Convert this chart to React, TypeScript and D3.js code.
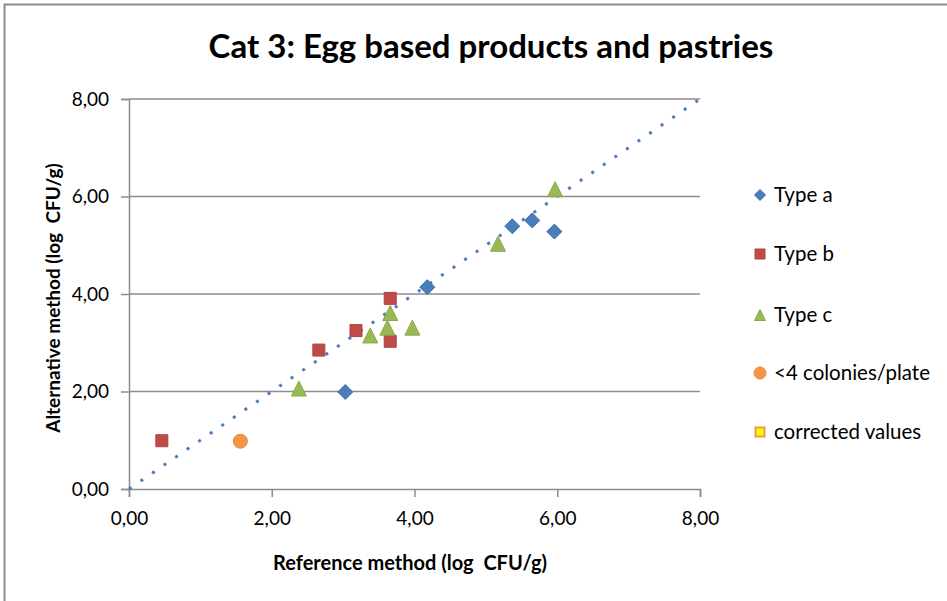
import * as React from 'react';
import * as d3 from 'd3';

type Pt = { x: number; y: number };

// values (log CFU/g)
const typeA: Pt[] = [
  { x: 3.03, y: 1.99 },
  { x: 4.18, y: 4.14 },
  { x: 5.37, y: 5.39 },
  { x: 5.65, y: 5.51 },
  { x: 5.96, y: 5.28 },
];
const typeB: Pt[] = [
  { x: 0.46, y: 0.99 },
  { x: 2.66, y: 2.85 },
  { x: 3.18, y: 3.25 },
  { x: 3.66, y: 3.91 },
  { x: 3.66, y: 3.03 },
];
const typeC: Pt[] = [
  { x: 2.38, y: 2.06 },
  { x: 3.38, y: 3.15 },
  { x: 3.62, y: 3.31 },
  { x: 3.66, y: 3.61 },
  { x: 3.97, y: 3.31 },
  { x: 5.17, y: 5.03 },
  { x: 5.97, y: 6.15 },
];
const fewColonies: Pt[] = [{ x: 1.56, y: 0.98 }];
const corrected: Pt[] = [];
const identityLine: Pt[] = [
  { x: 0, y: 0 },
  { x: 8, y: 8 },
];

const xTicks = [0, 2, 4, 6, 8];
const yTicks = [0, 2, 4, 6, 8];

const TITLE = 'Cat 3: Egg based products and pastries';
const X_TITLE = 'Reference method (log  CFU/g)';
const Y_TITLE = 'Alternative method (log  CFU/g)';

type Shape = 'diamond' | 'square' | 'triangle' | 'circle' | 'smallSquare';
const SERIES: { label: string; data: Pt[]; shape: Shape; fill: string; stroke: string }[] = [
  { label: 'Type a', data: typeA, shape: 'diamond', fill: '#4a7ebb', stroke: '#3f6fa8' },
  { label: 'Type b', data: typeB, shape: 'square', fill: '#be4b48', stroke: '#b04340' },
  { label: 'Type c', data: typeC, shape: 'triangle', fill: '#98b954', stroke: '#8aa84a' },
  { label: '<4 colonies/plate', data: fewColonies, shape: 'circle', fill: '#f79646', stroke: '#e8853a' },
  { label: 'corrected values', data: corrected, shape: 'smallSquare', fill: '#ffff00', stroke: '#f79646' },
];

const FONT = 'Lato, "Open Sans", sans-serif';

function marker(shape: Shape, s: number) {
  const h = s / 2;
  switch (shape) {
    case 'diamond':
      return `M0,${-h}L${h},0L0,${h}L${-h},0Z`;
    case 'square':
    case 'smallSquare':
      return `M${-h},${-h}H${h}V${h}H${-h}Z`;
    case 'triangle':
      return `M0,${-h}L${h},${h}L${-h},${h}Z`;
    case 'circle':
      return `M${h},0A${h},${h} 0 1,1 ${-h},0A${h},${h} 0 1,1 ${h},0Z`;
  }
}

const chartSize: Record<Shape, number> = { diamond: 15, square: 12, triangle: 15, circle: 14, smallSquare: 9 };
const legendSize: Record<Shape, number> = { diamond: 11, square: 10, triangle: 11, circle: 12, smallSquare: 9 };

export default function App() {
  const svgRef = React.useRef<SVGSVGElement | null>(null);

  React.useEffect(() => {
    if (!svgRef.current) return;
    const width = 947;
    const height = 601;
    const margin = { top: 99, right: 247, bottom: 112, left: 129 };

    const x = d3.scaleLinear().domain([0, 8]).range([margin.left, width - margin.right]);
    const y = d3.scaleLinear().domain([0, 8]).range([height - margin.bottom, margin.top]);
    const fmt = (d: d3.NumberValue) => d3.format('.2f')(d as number).replace('.', ',');

    const svg = d3.select(svgRef.current);
    svg.selectAll('*').remove();

    svg.append('rect').attr('width', width).attr('height', height).attr('fill', '#fff');
    // outer chart frame (only top and left visible)
    svg.append('path').attr('d', `M4.5,${height}V4.5H${width}`).attr('fill', 'none').attr('stroke', '#8c8c8c').attr('stroke-width', 2);

    // title
    svg.append('text')
      .attr('x', 491).attr('y', 58)
      .attr('text-anchor', 'middle')
      .attr('font-family', FONT).attr('font-weight', 700).attr('font-size', 33)
      .text(TITLE);

    // gridlines
    svg.append('g')
      .selectAll('line')
      .data(yTicks.filter((t) => t > 0))
      .join('line')
      .attr('x1', x(0)).attr('x2', x(8))
      .attr('y1', (d) => y(d)).attr('y2', (d) => y(d))
      .attr('stroke', '#8c8c8c').attr('stroke-width', 1.5);

    // x axis
    const xAxis = svg.append('g')
      .attr('transform', `translate(0,${y(0)})`)
      .call(d3.axisBottom(x).tickValues(xTicks).tickSize(8).tickPadding(15).tickFormat(fmt));
    xAxis.select('.domain').attr('stroke', '#8c8c8c').attr('stroke-width', 1.5);
    xAxis.selectAll('.tick line').attr('stroke', '#8c8c8c').attr('stroke-width', 1.5);
    xAxis.selectAll('text').attr('font-family', FONT).attr('font-size', 19).attr('fill', '#000');

    // y axis
    const yAxis = svg.append('g')
      .attr('transform', `translate(${x(0)},0)`)
      .call(d3.axisLeft(y).tickValues(yTicks).tickSize(8).tickPadding(12).tickFormat(fmt));
    yAxis.select('.domain').attr('stroke', '#8c8c8c').attr('stroke-width', 1.5);
    yAxis.selectAll('.tick line').attr('stroke', '#8c8c8c').attr('stroke-width', 1.5);
    yAxis.selectAll('text').attr('font-family', FONT).attr('font-size', 19).attr('fill', '#000');

    // axis titles (double space kept as in the original)
    svg.append('text')
      .attr('x', 410).attr('y', 570)
      .attr('text-anchor', 'middle')
      .attr('font-family', FONT).attr('font-weight', 700).attr('font-size', 20)
      .style('white-space', 'pre')
      .text(X_TITLE);
    svg.append('text')
      .attr('transform', `translate(60,${298}) rotate(-90)`)
      .attr('text-anchor', 'middle')
      .attr('font-family', FONT).attr('font-weight', 700).attr('font-size', 19)
      .style('white-space', 'pre')
      .text(Y_TITLE);

    // dotted identity line
    const line = d3.line<Pt>().x((d) => x(d.x)).y((d) => y(d.y));
    svg.append('path')
      .datum(identityLine)
      .attr('d', line)
      .attr('fill', 'none')
      .attr('stroke', '#4a7ebb')
      .attr('stroke-width', 3)
      .attr('stroke-dasharray', '3 11');

    // markers
    SERIES.forEach((s) => {
      svg.append('g')
        .selectAll('path')
        .data(s.data)
        .join('path')
        .attr('transform', (d) => `translate(${x(d.x)},${y(d.y)})`)
        .attr('d', marker(s.shape, chartSize[s.shape]))
        .attr('fill', s.fill)
        .attr('stroke', s.stroke)
        .attr('stroke-width', s.shape === 'smallSquare' ? 2 : 1);
    });

    // legend
    const legendRows = [195, 254, 315, 373, 432];
    const legend = svg.append('g');
    SERIES.forEach((s, i) => {
      const g = legend.append('g').attr('transform', `translate(760,${legendRows[i]})`);
      g.append('path')
        .attr('d', marker(s.shape, legendSize[s.shape]))
        .attr('fill', s.fill)
        .attr('stroke', s.stroke)
        .attr('stroke-width', s.shape === 'smallSquare' ? 2 : 1);
      g.append('text')
        .attr('x', 14)
        .attr('y', 7)
        .attr('font-family', FONT)
        .attr('font-size', 20.5)
        .attr('fill', '#000')
        .text(s.label);
    });
  }, []);

  return (
    <div style={{ position: 'absolute', left: 0, top: 0 }}>
      <svg ref={svgRef} width={947} height={601} style={{ display: 'block' }} />
    </div>
  );
}
